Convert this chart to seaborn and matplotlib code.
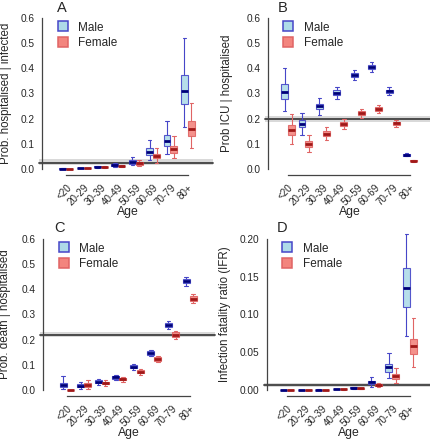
import numpy as np
import pandas as pd
import seaborn as sns
import matplotlib.pyplot as plt
from matplotlib.lines import Line2D
from matplotlib.transforms import ScaledTranslation

#----------------------------------------------------------
# Data : each box is [lower whisker, q1, median, q3, upper whisker]
#----------------------------------------------------------
ages = ["<20", "20-29", "30-39", "40-49", "50-59", "60-69", "70-79", "80+"]
sexes = ["Male", "Female"]

hosp_male = [[0.0008, 0.0012, 0.0015, 0.0018, 0.0024],
             [0.002, 0.0033, 0.0038, 0.0043, 0.0055],
             [0.005, 0.0075, 0.009, 0.0105, 0.013],
             [0.009, 0.013, 0.015, 0.018, 0.024],
             [0.016, 0.021, 0.028, 0.034, 0.049],
             [0.036, 0.056, 0.069, 0.082, 0.116],
             [0.06, 0.093, 0.113, 0.136, 0.19],
             [0.166, 0.257, 0.31, 0.373, 0.52]]
hosp_female = [[0.0005, 0.0008, 0.001, 0.0012, 0.0016],
               [0.0018, 0.0026, 0.003, 0.0035, 0.0045],
               [0.004, 0.006, 0.007, 0.008, 0.0105],
               [0.008, 0.010, 0.012, 0.013, 0.016],
               [0.012, 0.017, 0.022, 0.026, 0.036],
               [0.025, 0.042, 0.05, 0.06, 0.084],
               [0.042, 0.065, 0.08, 0.092, 0.13],
               [0.084, 0.129, 0.157, 0.189, 0.264]]
hosp_overall = [0.015, 0.025, 0.04]

icu_male = [[0.232, 0.28, 0.306, 0.336, 0.40],
            [0.136, 0.166, 0.18, 0.193, 0.222],
            [0.216, 0.24, 0.25, 0.258, 0.282],
            [0.277, 0.293, 0.302, 0.312, 0.326],
            [0.352, 0.365, 0.373, 0.38, 0.394],
            [0.384, 0.397, 0.405, 0.413, 0.426],
            [0.293, 0.301, 0.308, 0.315, 0.324],
            [0.05, 0.053, 0.056, 0.059, 0.062]]
icu_female = [[0.1, 0.133, 0.153, 0.173, 0.22],
              [0.069, 0.089, 0.1, 0.112, 0.136],
              [0.116, 0.13, 0.14, 0.149, 0.166],
              [0.157, 0.169, 0.177, 0.185, 0.197],
              [0.203, 0.213, 0.221, 0.229, 0.24],
              [0.224, 0.232, 0.24, 0.246, 0.254],
              [0.168, 0.176, 0.181, 0.187, 0.193],
              [0.029, 0.031, 0.032, 0.034, 0.036]]
icu_overall = [0.188, 0.2, 0.212]

death_male = [[0.003, 0.013, 0.021, 0.029, 0.056],
              [0.005, 0.012, 0.017, 0.023, 0.033],
              [0.021, 0.028, 0.033, 0.038, 0.045],
              [0.038, 0.045, 0.05, 0.056, 0.061],
              [0.079, 0.086, 0.093, 0.099, 0.105],
              [0.134, 0.14, 0.147, 0.154, 0.159],
              [0.242, 0.252, 0.26, 0.267, 0.275],
              [0.414, 0.424, 0.433, 0.441, 0.45]]
death_female = [[0.0, 0.0003, 0.0005, 0.0008, 0.001],
                [0.003, 0.013, 0.02, 0.027, 0.041],
                [0.016, 0.023, 0.028, 0.033, 0.038],
                [0.032, 0.038, 0.044, 0.048, 0.053],
                [0.061, 0.068, 0.073, 0.078, 0.083],
                [0.11, 0.116, 0.123, 0.13, 0.136],
                [0.203, 0.212, 0.22, 0.229, 0.236],
                [0.347, 0.355, 0.363, 0.372, 0.38]]
death_overall = [0.21, 0.22, 0.231]

ifr_male = [[0.00005, 0.00008, 0.0001, 0.00012, 0.00015],
            [0.00012, 0.00017, 0.0002, 0.00023, 0.0003],
            [0.0003, 0.0004, 0.0005, 0.0006, 0.0007],
            [0.0007, 0.0009, 0.001, 0.0011, 0.0014],
            [0.0015, 0.0025, 0.003, 0.0035, 0.0042],
            [0.0044, 0.0075, 0.010, 0.012, 0.017],
            [0.016, 0.024, 0.030, 0.035, 0.049],
            [0.072, 0.110, 0.135, 0.161, 0.207]]
ifr_female = [[0.00004, 0.00006, 0.00008, 0.0001, 0.00012],
              [0.0001, 0.00014, 0.00016, 0.00018, 0.00022],
              [0.0002, 0.0003, 0.0004, 0.0005, 0.0006],
              [0.0005, 0.0007, 0.0008, 0.0009, 0.0011],
              [0.0012, 0.0017, 0.002, 0.0023, 0.0028],
              [0.0035, 0.0053, 0.0066, 0.0075, 0.0088],
              [0.009, 0.015, 0.018, 0.021, 0.029],
              [0.031, 0.047, 0.058, 0.068, 0.096]]
ifr_overall = [0.0044, 0.0066, 0.0097]

fill = {"Male": "#aedbe8", "Female": "#f3857e"}
edge = {"Male": "#4646c8", "Female": "#e06464"}
mid = {"Male": "#00007a", "Female": "#a01818"}


def make_frame(male, female):
    rows = []
    for sex, boxes in zip(sexes, [male, female]):
        for age, vals in zip(ages, boxes):
            for v in vals:
                rows.append((age, sex, v))
    return pd.DataFrame(rows, columns=["age", "sex", "value"])


def draw_panel(ax, male, female, overall, ylabel, yticks, ytick_labels, xlim, ylab_x):
    df = make_frame(male, female)
    ylo, yhi = yticks[0], yticks[-1]
    pad = (yhi - ylo) * 0.04

    ax.axhspan(overall[0], overall[2], xmin=-0.02, color="#d9d9d9", lw=0,
               zorder=0, clip_on=False)
    ax.axhline(overall[1], xmin=-0.02, color="#404040", lw=1.3, zorder=0.5,
               clip_on=False)

    # one call per sex so each gets its own line colours, dodge keeps positions
    for sex in sexes:
        sns.boxplot(data=df[df.sex == sex], x="age", y="value", hue="sex",
                    hue_order=sexes, order=ages, palette=fill, saturation=1,
                    dodge=True, whis=(0, 100), width=0.8, fliersize=0,
                    linewidth=0.8, linecolor=edge[sex], legend=False, ax=ax,
                    medianprops=dict(color=mid[sex], linewidth=2.0),
                    boxprops=dict(alpha=0.9))

    ticks = np.arange(len(ages))
    ax.set_xticks(ticks)
    ax.set_xticklabels(ages, rotation=45, ha="right", va="top",
                       rotation_mode="anchor", fontsize=7.1)
    shift = ScaledTranslation(2 / 100, 0, ax.figure.dpi_scale_trans)
    for lab in ax.get_xticklabels():
        lab.set_transform(lab.get_transform() + shift)

    ax.set_yticks(yticks)
    ax.set_yticklabels(ytick_labels, fontsize=7.3)
    ax.set_xlim(*xlim)
    ax.set_ylim(ylo - pad, yhi + pad)

    sns.despine(ax=ax)
    ax.spines["left"].set_bounds(ylo, yhi)
    ax.spines["bottom"].set_bounds(ticks[0], ticks[-1])
    for s in ["left", "bottom"]:
        ax.spines[s].set_color("#444444")
        ax.spines[s].set_linewidth(0.9)
    ax.tick_params(direction="out", length=3.5, width=0.9, color="#444444", pad=1.8)

    ax.set_xlabel("Age", fontsize=8.8)
    ax.xaxis.set_label_coords(0.5, -0.19)
    ax.set_ylabel(ylabel, fontsize=8.3)
    ax.yaxis.set_label_coords(ylab_x, 0.5)

    handles = [Line2D([], [], marker="s", ls="", markersize=6.5,
                      markerfacecolor=fill[s], markeredgecolor=edge[s],
                      markeredgewidth=1.1) for s in sexes]
    ax.legend(handles, sexes, loc="upper left", bbox_to_anchor=(0.06, 0.97),
              frameon=False, fontsize=8.5, handlelength=1.0, handletextpad=0.8,
              labelspacing=0.3, borderaxespad=0.0)


def main():
    sns.set_style("white")
    plt.rcParams["font.family"] = ["Liberation Sans", "DejaVu Sans"]

    fig = plt.figure(figsize=(4.31, 4.40), dpi=100)
    ax_a = fig.add_axes([42 / 431, 0.6023, 171 / 431, 0.3705])
    ax_b = fig.add_axes([268 / 431, 0.6023, 163 / 431, 0.3705])
    ax_c = fig.add_axes([43 / 431, 0.10, 172 / 431, 0.3705])
    ax_d = fig.add_axes([267 / 431, 0.10, 164 / 431, 0.3705])

    t6 = [0, 0.1, 0.2, 0.3, 0.4, 0.5, 0.6]
    l6 = ["0.0", "0.1", "0.2", "0.3", "0.4", "0.5", "0.6"]
    draw_panel(ax_a, hosp_male, hosp_female, hosp_overall,
               "Prob. hospitalised | infected", t6, l6, (-1.4, 8.45), -0.175)
    draw_panel(ax_b, icu_male, icu_female, icu_overall,
               "Prob ICU | hospitalised", t6, l6, (-1.15, 8.2), -0.215)
    draw_panel(ax_c, death_male, death_female, death_overall,
               "Prob. death | hospitalised", t6, l6, (-1.35, 8.45), -0.185)
    draw_panel(ax_d, ifr_male, ifr_female, ifr_overall,
               "Infection fatality ratio (IFR)",
               [0, 0.05, 0.1, 0.15, 0.2], ["0.00", "0.05", "0.10", "0.15", "0.20"],
               (-1.15, 8.2), -0.22)

    for letter, x, y in [("A", 62, 8), ("B", 283, 8), ("C", 60, 228), ("D", 282, 228)]:
        fig.text(x / 431, 1 - y / 440, letter, fontsize=10.5, ha="center", va="center")

    fig.savefig("out.png", dpi=100)


if __name__ == "__main__":
    main()
